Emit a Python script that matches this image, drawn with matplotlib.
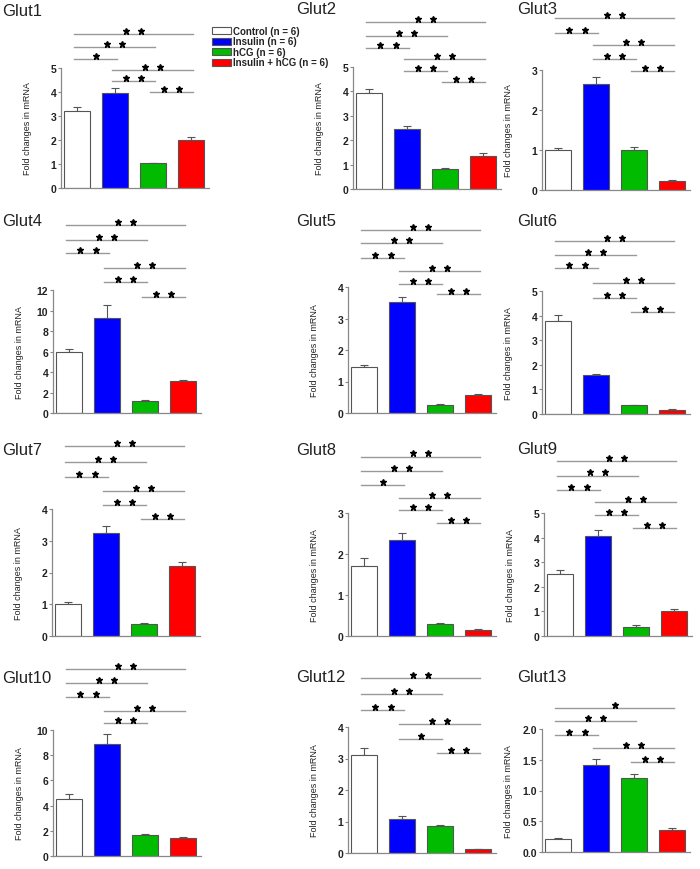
import matplotlib
matplotlib.use("Agg")
import matplotlib.pyplot as plt
from matplotlib.patches import Patch
from matplotlib.ticker import FormatStrFormatter
import numpy as np

plt.rcParams['font.family'] = ['Liberation Sans', 'DejaVu Sans']

groups = ["Control (n = 6)", "Insulin (n = 6)", "hCG (n = 6)", "Insulin + hCG (n = 6)"]
colors = ["#ffffff", "#0000ff", "#00bb00", "#ff0000"]

genes = ["Glut1", "Glut2", "Glut3", "Glut4", "Glut5", "Glut6",
         "Glut7", "Glut8", "Glut9", "Glut10", "Glut12", "Glut13"]

means = {
    "Glut1": [3.22, 3.95, 1.03, 2.00],
    "Glut2": [3.95, 2.45, 0.82, 1.37],
    "Glut3": [1.00, 2.65, 1.00, 0.22],
    "Glut4": [5.95, 9.30, 1.15, 3.10],
    "Glut5": [1.45, 3.52, 0.25, 0.57],
    "Glut6": [3.78, 1.57, 0.35, 0.18],
    "Glut7": [1.02, 3.25, 0.38, 2.20],
    "Glut8": [1.70, 2.35, 0.30, 0.14],
    "Glut9": [2.53, 4.07, 0.38, 1.02],
    "Glut10": [4.55, 8.85, 1.70, 1.40],
    "Glut12": [3.10, 1.07, 0.85, 0.12],
    "Glut13": [0.21, 1.42, 1.20, 0.35],
}
errors = {
    "Glut1": [0.15, 0.22, 0.03, 0.13],
    "Glut2": [0.15, 0.15, 0.03, 0.10],
    "Glut3": [0.05, 0.17, 0.07, 0.02],
    "Glut4": [0.30, 1.20, 0.10, 0.15],
    "Glut5": [0.07, 0.15, 0.02, 0.04],
    "Glut6": [0.25, 0.05, 0.02, 0.03],
    "Glut7": [0.04, 0.20, 0.03, 0.14],
    "Glut8": [0.20, 0.16, 0.02, 0.02],
    "Glut9": [0.15, 0.25, 0.05, 0.08],
    "Glut10": [0.35, 0.80, 0.05, 0.08],
    "Glut12": [0.22, 0.10, 0.03, 0.02],
    "Glut13": [0.01, 0.10, 0.07, 0.04],
}
ymax = {"Glut1": 5, "Glut2": 5, "Glut3": 3, "Glut4": 12, "Glut5": 4, "Glut6": 5,
        "Glut7": 4, "Glut8": 3, "Glut9": 5, "Glut10": 10, "Glut12": 4, "Glut13": 2.0}
ystep = {"Glut1": 1, "Glut2": 1, "Glut3": 1, "Glut4": 2, "Glut5": 1, "Glut6": 1,
         "Glut7": 1, "Glut8": 1, "Glut9": 1, "Glut10": 2, "Glut12": 1, "Glut13": 0.5}

# significance: (group i, group j, number of stars)
sig = {
    "Glut1": [(0, 3, 2), (0, 2, 2), (0, 1, 1), (1, 3, 2), (1, 2, 2), (2, 3, 2)],
    "Glut2": [(0, 3, 2), (0, 2, 2), (0, 1, 2), (1, 3, 2), (1, 2, 2), (2, 3, 2)],
    "Glut3": [(0, 3, 2), (0, 1, 2), (1, 3, 2), (1, 2, 2), (2, 3, 2)],
    "Glut4": [(0, 3, 2), (0, 2, 2), (0, 1, 2), (1, 3, 2), (1, 2, 2), (2, 3, 2)],
    "Glut5": [(0, 3, 2), (0, 2, 2), (0, 1, 2), (1, 3, 2), (1, 2, 2), (2, 3, 2)],
    "Glut6": [(0, 3, 2), (0, 2, 2), (0, 1, 2), (1, 3, 2), (1, 2, 2), (2, 3, 2)],
    "Glut7": [(0, 3, 2), (0, 2, 2), (0, 1, 2), (1, 3, 2), (1, 2, 2), (2, 3, 2)],
    "Glut8": [(0, 3, 2), (0, 2, 2), (0, 1, 1), (1, 3, 2), (1, 2, 2), (2, 3, 2)],
    "Glut9": [(0, 3, 2), (0, 2, 2), (0, 1, 2), (1, 3, 2), (1, 2, 2), (2, 3, 2)],
    "Glut10": [(0, 3, 2), (0, 2, 2), (0, 1, 2), (1, 3, 2), (1, 2, 2)],
    "Glut12": [(0, 3, 2), (0, 2, 2), (0, 1, 2), (1, 3, 2), (1, 2, 1), (2, 3, 2)],
    "Glut13": [(0, 3, 1), (0, 2, 2), (0, 1, 2), (1, 3, 2), (2, 3, 2)],
}
# layout (pixels): axes left, top, bottom; sig-line offsets above axes top; title position
W, H = 700, 870
axpos = {
    "Glut1": (61, 69, 189), "Glut2": (353, 68, 190), "Glut3": (542, 71, 191),
    "Glut4": (53, 291, 414), "Glut5": (348, 288, 414), "Glut6": (542, 292, 415),
    "Glut7": (52, 510, 637), "Glut8": (348, 514, 637), "Glut9": (544, 514, 637),
    "Glut10": (53, 731, 857), "Glut12": (348, 728, 854), "Glut13": (542, 730, 853),
}
sig_off = {
    "Glut1": [34, 21, 9, -2, -13, -24],
    "Glut2": [45, 31, 19, 8, -4, -15],
    "Glut3": [52, 37, 25, 11, -1],
    "Glut4": [65, 50, 37, 22, 8, -7],
    "Glut5": [57, 44, 29, 16, 3, -7],
    "Glut6": [50, 36, 23, 8, -7, -21],
    "Glut7": [63, 47, 32, 18, 4, -10],
    "Glut8": [56, 42, 28, 15, 3, -10],
    "Glut9": [52, 37, 23, 11, -2, -15],
    "Glut10": [61, 47, 33, 19, 7],
    "Glut12": [49, 33, 17, 3, -12, -26],
    "Glut13": [21, 8, -6, -19, -33],
}
title_pos = {
    "Glut1": (2, 11), "Glut2": (296, 9), "Glut3": (517, 10),
    "Glut4": (2, 221), "Glut5": (296, 221), "Glut6": (517, 221),
    "Glut7": (2, 451), "Glut8": (296, 451), "Glut9": (517, 450),
    "Glut10": (2, 679), "Glut12": (296, 678), "Glut13": (517, 678),
}

AXW = 148
fig = plt.figure(figsize=(7, 8.7), dpi=100)
x = np.arange(4)
spine_c = "#888888"
for g in genes:
    l, t, b = axpos[g]
    hpx = b - t
    ax = fig.add_axes([l / W, 1 - b / H, AXW / W, hpx / H])
    m = means[g]
    e = errors[g]
    ax.bar(x, m, width=0.68, color=colors, edgecolor="#555555", linewidth=0.8, zorder=2)
    ax.errorbar(x, m, yerr=[np.zeros(4), e], fmt="none", ecolor="#555555",
                elinewidth=0.8, capsize=3, capthick=0.8, zorder=1)
    ax.set_xlim(-0.42, 3.48)
    ax.set_ylim(0, ymax[g])
    ax.set_yticks(np.arange(0, ymax[g] + 1e-9, ystep[g]))
    if g == "Glut13":
        ax.yaxis.set_major_formatter(FormatStrFormatter("%.1f"))
    ax.set_xticks([])
    for s in ["top", "right"]:
        ax.spines[s].set_visible(False)
    for s in ["left", "bottom"]:
        ax.spines[s].set_color(spine_c)
        ax.spines[s].set_linewidth(0.9)
    ax.tick_params(axis="y", length=2, width=0.8, color=spine_c, pad=1.5,
                   labelsize=7.5)
    for lab in ax.get_yticklabels():
        lab.set_fontweight("bold")
        lab.set_color("#222222")
    ax.set_ylabel("Fold changes in mRNA", fontsize=6.5, color="#222222")
    ax.yaxis.set_label_coords(-29 / AXW, 0.5)
    tr = ax.get_xaxis_transform()
    for (i, j, n), off in zip(sig[g], sig_off[g]):
        yl = 1 + off / hpx
        ys = 1 + (off + 3.5) / hpx
        ax.plot([i - 0.08, j + 0.05], [yl, yl], color="#999999", lw=1.0,
                transform=tr, clip_on=False)
        mid = (i + j) / 2
        if n == 2:
            xs = [mid - 0.2, mid + 0.2]
        else:
            xs = [mid]
        ax.plot(xs, [ys] * len(xs), linestyle="none", marker="*", ms=4.5,
                color="black", transform=tr, clip_on=False)
    tx, ty = title_pos[g]
    fig.text(tx / W, 1 - ty / H, g, fontsize=12, ha="left", va="center",
             color="#222222")

handles = [Patch(facecolor=c, edgecolor="#555555", linewidth=0.8) for c in colors]
leg = fig.legend(handles, groups, loc="upper left",
                 bbox_to_anchor=(212 / W, 1 - 27 / H), frameon=False,
                 fontsize=7, handlelength=2.0, handleheight=0.75,
                 labelspacing=0.05, handletextpad=0.2, borderpad=0,
                 borderaxespad=0)
for txt in leg.get_texts():
    txt.set_fontweight("bold")
    txt.set_color("#222222")

fig.savefig("out.png", dpi=100, facecolor="white")
